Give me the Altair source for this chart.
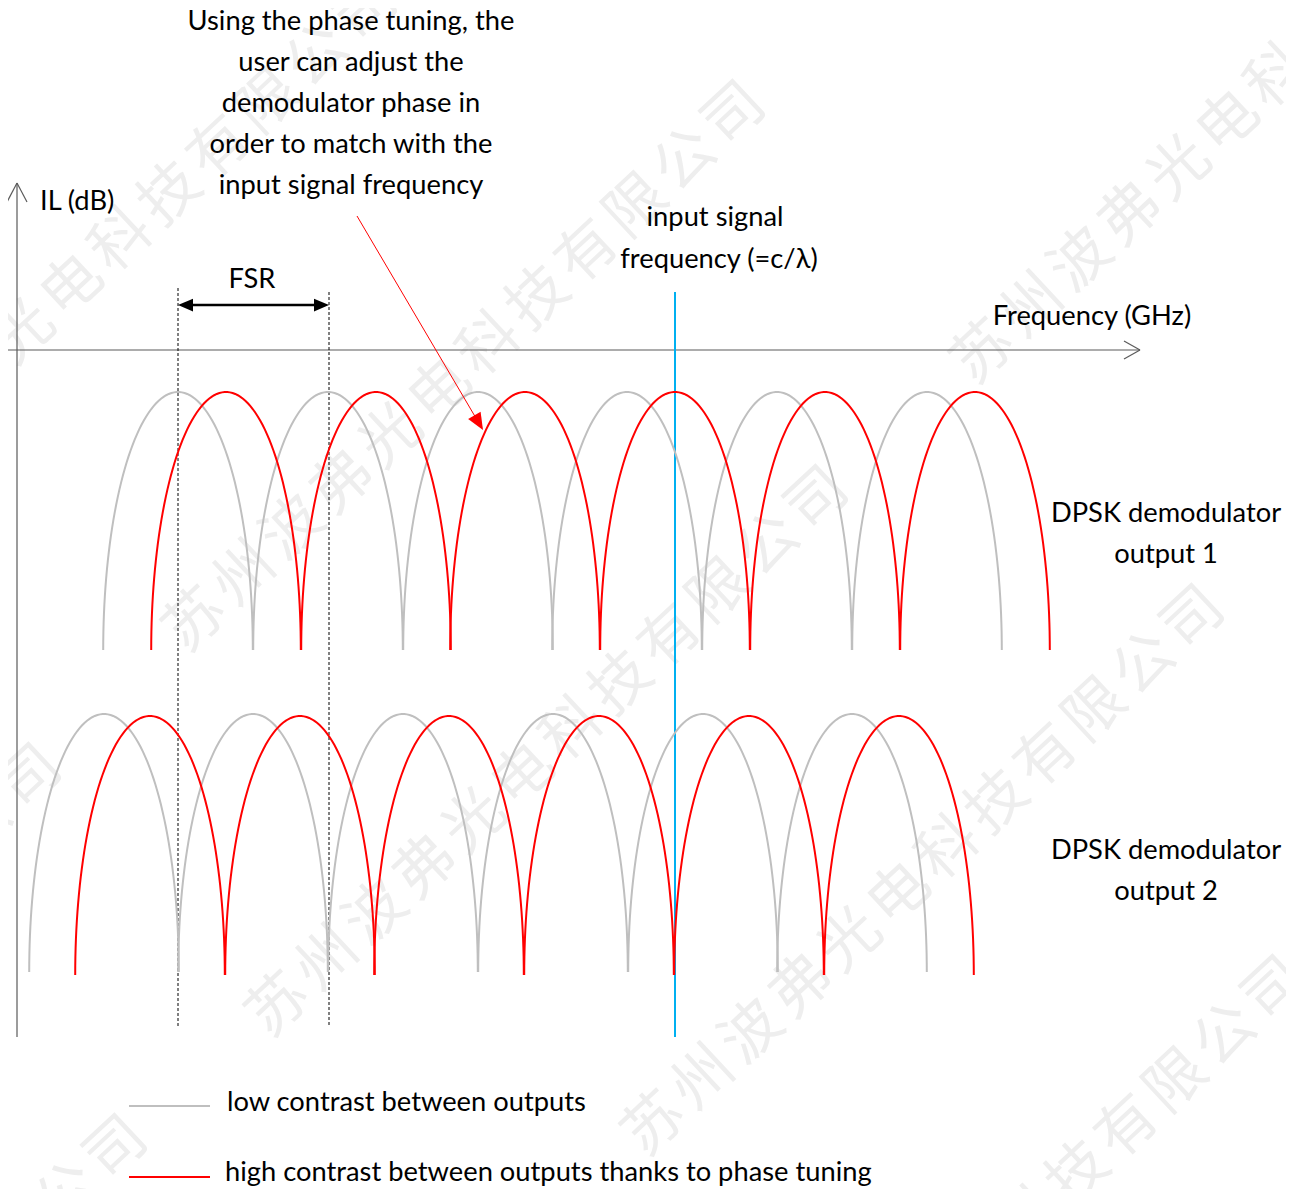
import altair as alt
import pandas as pd
import numpy as np

# ---------------- canvas (values are in reference pixel units) ----------------
W, H = 1278, 1181
X0, Y0 = 8, 8

# ---------------- interference fringes (peak positions) ----
half_fsr = 74.8
out1_gray_centers = [178, 328, 478, 627, 777, 927]
out1_red_centers = [226, 376, 525, 675, 825, 975]
out2_gray_centers = [104, 253, 403, 553, 703, 852]
out2_red_centers = [150, 300, 449, 599, 749, 899]
out1_gray_top, out1_gray_bottom = 392, 650
out1_red_top, out1_red_bottom = 392, 650
out2_gray_top, out2_gray_bottom = 714, 972
out2_red_top, out2_red_bottom = 716, 975

# ---------------- axes, guides and arrows ----------------
axis_x = [2, 1140]; axis_x_y = 350
axis_y_x = 17; axis_y = [183, 1037]
xhead = [(1124, 341, 1140, 350), (1124, 359, 1140, 350)]
yhead = [(7, 202, 17, 183), (27, 202, 17, 183)]
dotted_x = [178, 329]
dotted_top = [288, 292]
dotted_bottom = [1027, 1027]
fsr_y = 305
fsr_tips = [178, 329]
signal_x = 675
signal_y = [292, 1037]
annot_start = (357, 216)
annot_tip = (483, 430)
legend_line_x = [129, 210]
legend_line_y = [1106, 1177]

# ---------------- texts ----------------
center_texts = [
    ("Using the phase tuning, the", 351, 30),
    ("user can adjust the", 351, 71),
    ("demodulator phase in", 351, 112),
    ("order to match with the", 351, 153),
    ("input signal frequency", 351, 194),
    ("input signal", 715, 226),
    ("frequency (=c/\u03bb)", 719, 268),
    ("FSR", 252, 288),
    ("Frequency (GHz)", 1092, 325),
    ("DPSK demodulator", 1166, 522),
    ("output 1", 1166, 563),
    ("DPSK demodulator", 1166, 859),
    ("output 2", 1166, 900),
]
left_texts = [
    ("IL (dB)", 40, 210),
    ("low contrast between outputs", 227, 1111),
    ("high contrast between outputs thanks to phase tuning", 225, 1181),
]

# ---------------- watermark ----------------
wm_text = "苏州波弗光电科技有限公司"
wm_last_char = [(367, 11), (735, 115), (1523, -153), (818, 500),
                (1194, 619), (1275, 990), (117, 1149), (31, 778)]
wm_step = (49, -46)

FONT = "Lato"
FS = 27.3

# ============================================================================
xs = lambda f="x": alt.X(f"{f}:Q", scale=alt.Scale(domain=[X0, X0 + W], nice=False, zero=False), axis=None)
ys = lambda f="y": alt.Y(f"{f}:Q", scale=alt.Scale(domain=[Y0, Y0 + H], nice=False, zero=False, reverse=True), axis=None)

# arcs
rows = []
phi = np.linspace(np.pi, 0, 90)
for name, centers, top, bottom in [
    ("gray", out1_gray_centers, out1_gray_top, out1_gray_bottom),
    ("red", out1_red_centers, out1_red_top, out1_red_bottom),
    ("gray", out2_gray_centers, out2_gray_top, out2_gray_bottom),
    ("red", out2_red_centers, out2_red_top, out2_red_bottom),
]:
    for c in centers:
        key = f"{name}-{top}-{c}"
        for i, p in enumerate(phi):
            rows.append({"id": key, "s": name, "o": i,
                         "x": c + half_fsr * np.cos(p),
                         "y": bottom - (bottom - top) * np.sin(p)})
arcs = pd.DataFrame(rows)

def arc_layer(name, color):
    return alt.Chart(arcs[arcs.s == name]).mark_line(color=color, strokeWidth=2, interpolate="linear").encode(
        x=xs(), y=ys(), detail="id:N", order="o:Q")

def segs(lst, **kw):
    df = pd.DataFrame(lst, columns=["x", "y", "x2", "y2"])
    return alt.Chart(df).mark_rule(**kw).encode(x=xs(), y=ys(), x2="x2:Q", y2="y2:Q")

axes = segs([(axis_x[0], axis_x_y, axis_x[1], axis_x_y),
             (axis_y_x, axis_y[0], axis_y_x, axis_y[1])] + xhead + yhead,
            color="#5a5a5a", strokeWidth=1.2)
dotted = segs([(dx, t, dx, b) for dx, t, b in zip(dotted_x, dotted_top, dotted_bottom)],
              color="#000000", strokeWidth=1, strokeDash=[3, 2])
fsr_line = segs([(fsr_tips[0] + 8, fsr_y, fsr_tips[1] - 8, fsr_y)], color="#000000", strokeWidth=2.5)
blue = segs([(signal_x, signal_y[0], signal_x, signal_y[1])], color="#00b0f0", strokeWidth=2)

d = np.array(annot_tip) - np.array(annot_start)
d = d / np.linalg.norm(d)
r_red = 8.5
red_center = np.array(annot_tip) - r_red * d
annot = segs([(annot_start[0], annot_start[1], red_center[0], red_center[1])], color="#ff0000", strokeWidth=1)
legend_lines = alt.layer(
    segs([(legend_line_x[0], legend_line_y[0], legend_line_x[1], legend_line_y[0])], color="#bfbfbf", strokeWidth=2),
    segs([(legend_line_x[0], legend_line_y[1], legend_line_x[1], legend_line_y[1])], color="#ff0000", strokeWidth=2),
)

red_angle = float(np.degrees(np.arctan2(d[0], -d[1])))
heads = pd.DataFrame([
    {"x": fsr_tips[0] + 7.5, "y": fsr_y, "a": 270, "c": "#000000", "sz": 225},
    {"x": fsr_tips[1] - 7.5, "y": fsr_y, "a": 90, "c": "#000000", "sz": 225},
    {"x": red_center[0], "y": red_center[1], "a": red_angle, "c": "#ff0000", "sz": 4 * r_red ** 2},
])
arrowheads = alt.Chart(heads).mark_point(shape="M0,-1L0.85,1L-0.85,1Z", filled=True, opacity=1, strokeWidth=0).encode(
    x=xs(), y=ys(), angle=alt.Angle("a:Q", scale=None), color=alt.Color("c:N", scale=None),
    size=alt.Size("sz:Q", scale=None))

ct = pd.DataFrame(center_texts, columns=["t", "x", "y"])
lt = pd.DataFrame(left_texts, columns=["t", "x", "y"])
text_c = alt.Chart(ct).mark_text(align="center", baseline="alphabetic", font=FONT, fontSize=FS, color="#000000").encode(
    x=xs(), y=ys(), text="t:N")
text_l = alt.Chart(lt).mark_text(align="left", baseline="alphabetic", font=FONT, fontSize=FS, color="#000000").encode(
    x=xs(), y=ys(), text="t:N")

wm_rows = []
n = len(wm_text)
for (lx, ly) in wm_last_char:
    for k, ch in enumerate(wm_text):
        back = n - 1 - k
        wm_rows.append({"x": lx - back * wm_step[0], "y": ly - back * wm_step[1], "t": ch})
wm = pd.DataFrame(wm_rows)
watermark = alt.Chart(wm).mark_text(align="center", baseline="middle", font="Noto Sans CJK SC", fontSize=60,
                                    angle=317, color="#eeeeee").encode(x=xs(), y=ys(), text="t:N")

chart = alt.layer(
    watermark, axes, dotted, fsr_line, blue,
    arc_layer("gray", "#bfbfbf"), arc_layer("red", "#ff0000"),
    annot, arrowheads, legend_lines, text_c, text_l,
).properties(width=W, height=H, padding=0, background="#ffffff",
             autosize=alt.AutoSizeParams(type="none")
).configure_view(strokeWidth=0, stroke=None)

chart.save("out.html", embed_options={"renderer": "svg", "actions": False})
